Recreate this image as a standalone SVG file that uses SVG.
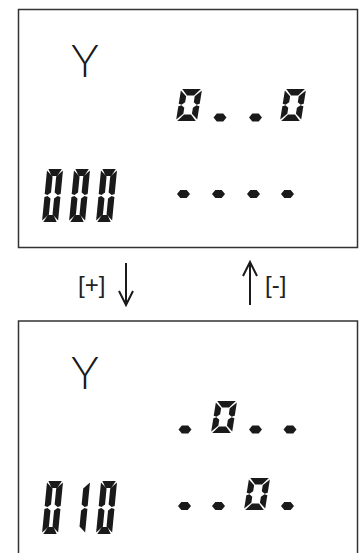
<svg xmlns="http://www.w3.org/2000/svg" width="360" height="553" viewBox="0 0 360 553">
<style>
.box{fill:#fff;stroke:#333;stroke-width:1.5}
.seg{fill:#1a1a1a}
.lbl{font-family:"Liberation Sans",Arial,sans-serif;font-size:24px;fill:#222}
.y{font-family:Lato,"Liberation Sans",sans-serif;font-weight:300;font-size:46px;fill:#1a1a1a;text-anchor:middle}
.arr{fill:none;stroke:#1a1a1a;stroke-width:2;stroke-linecap:butt}
</style>
<defs>
<g id="s0">
<polygon points="1.2,-32 19.8,-32 14,-25.5 7,-25.5"/>
<polygon points="21,-30.6 21,-17.2 18,-16.2 14.8,-18.8 14.8,-24.8"/>
<polygon points="21,-1.4 21,-14.8 18,-15.8 14.8,-13.2 14.8,-7.2"/>
<polygon points="1.2,0 19.8,0 14,-6.5 7,-6.5"/>
<polygon points="0,-1.4 0,-14.8 3,-15.8 6.2,-13.2 6.2,-7.2"/>
<polygon points="0,-30.6 0,-17.2 3,-16.2 6.2,-18.8 6.2,-24.8"/>
</g>
<g id="l0">
<polygon points="1.3,-53 14.7,-53 10.8,-46 5.2,-46"/>
<polygon points="16,-51.6 16,-28 13,-27 9.8,-29.5 9.8,-45.5"/>
<polygon points="16,-1.4 16,-25 13,-26 9.8,-23.5 9.8,-7.5"/>
<polygon points="1.3,0 14.7,0 10.8,-7 5.2,-7"/>
<polygon points="0,-1.4 0,-25 3,-26 6.2,-23.5 6.2,-7.5"/>
<polygon points="0,-51.6 0,-28 3,-27 6.2,-29.5 6.2,-45.5"/>
</g>
<g id="l1">
<polygon points="16,-51.6 16,-28 13,-27 9.8,-29.5 9.8,-45.5"/>
<polygon points="16,-1.4 16,-25 13,-26 9.8,-23.5 9.8,-7.5"/>
</g>
<polygon id="dp" points="-6.5,0 -3.2,-4 3.2,-4 6.5,0 3.2,4 -3.2,4"/>
</defs>

<g id="display-1">
<rect class="box" x="18.5" y="9.5" width="339" height="238"/>
<text class="y" x="85" y="76.7">Y</text>
<g class="seg">
<use href="#s0" transform="translate(176,121) skewX(-9)"/>
<use href="#dp" x="220" y="117.5"/>
<use href="#dp" x="255.5" y="117.5"/>
<use href="#s0" transform="translate(280,121) skewX(-9)"/>
<use href="#l0" transform="translate(42,222) skewX(-5.5)"/>
<use href="#l0" transform="translate(69,222) skewX(-5.5)"/>
<use href="#l0" transform="translate(96,222) skewX(-5.5)"/>
<use href="#dp" x="183.5" y="194"/>
<use href="#dp" x="218.5" y="194"/>
<use href="#dp" x="253.5" y="194"/>
<use href="#dp" x="287.5" y="194"/>
</g>
</g>

<g id="display-2">
<rect class="box" x="18.5" y="321" width="339" height="240"/>
<text class="y" x="85" y="388.5">Y</text>
<g class="seg">
<use href="#dp" x="185" y="429.5"/>
<use href="#s0" transform="translate(211,433) skewX(-9)"/>
<use href="#dp" x="255.5" y="429.5"/>
<use href="#dp" x="290" y="429.5"/>
<use href="#l0" transform="translate(42,534) skewX(-5.5)"/>
<use href="#l1" transform="translate(69,534) skewX(-5.5)"/>
<use href="#l0" transform="translate(96,534) skewX(-5.5)"/>
<use href="#dp" x="184.5" y="506"/>
<use href="#dp" x="218.5" y="506"/>
<use href="#s0" transform="translate(244,510) skewX(-9)"/>
<use href="#dp" x="287.5" y="506"/>
</g>
</g>

<g id="connectors">
<g id="plus">
<line class="arr" x1="126" y1="263" x2="126" y2="305"/>
<polyline class="arr" points="119,291 126,305 133,291"/>
<text class="lbl" x="78" y="292.5">[+]</text>
</g>
<g id="minus">
<line class="arr" x1="250" y1="262" x2="250" y2="305"/>
<polyline class="arr" points="243,276 250,262 257,276"/>
<text class="lbl" x="265" y="292.5">[-]</text>
</g>
</g>
</svg>
